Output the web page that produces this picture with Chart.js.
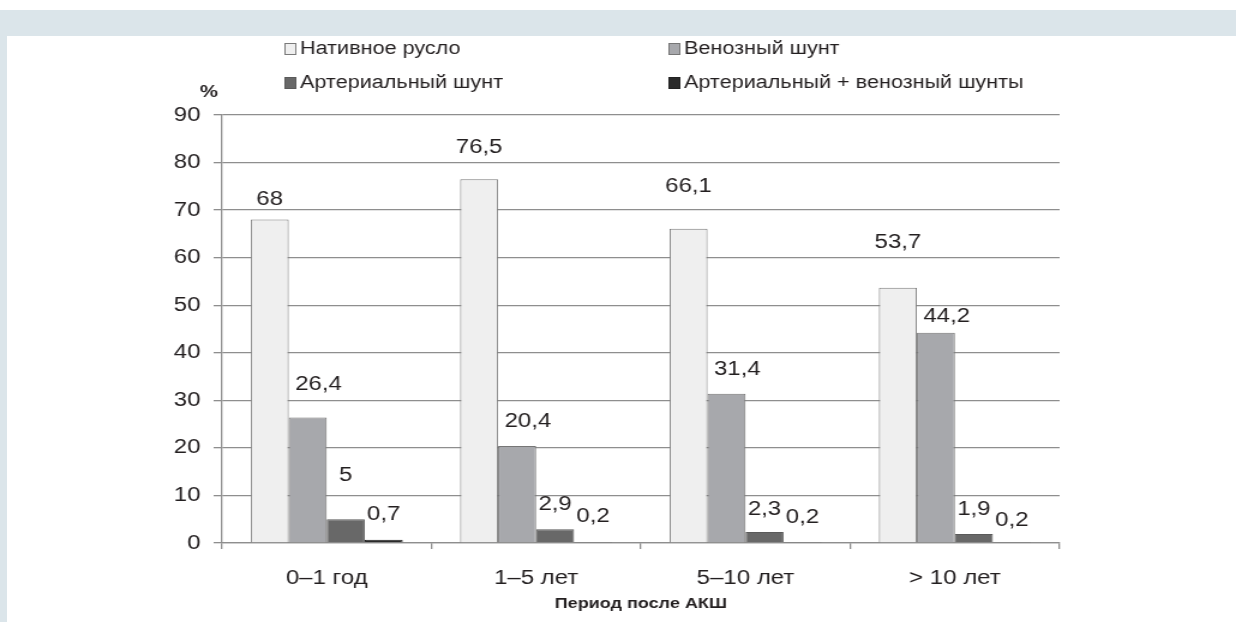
<!DOCTYPE html>
<html lang="ru">
<head>
<meta charset="utf-8">
<title>Период после АКШ</title>
<script src="https://cdn.jsdelivr.net/npm/chart.js@4/dist/chart.umd.min.js"></script>
<style>
  html, body { margin: 0; padding: 0; background: #fff; }
  #wrap { position: relative; width: 1236px; height: 622px; overflow: hidden; }
  .band { position: absolute; background: #dbe5ea; }
  #c { position: absolute; left: 0; top: 0; }
</style>
</head>
<body>
<div id="wrap">
  <div class="band" style="left:0;top:10px;width:1236px;height:26px"></div>
  <div class="band" style="left:0;top:10px;width:7px;height:612px"></div>
  <!-- канвас чуть уже окна и растянут по ширине, как в оригинале -->
  <canvas id="c" width="1030" height="622" style="width:1236px;height:622px"></canvas>
</div>
<script>
// данные
const periods = ['0–1 год', '1–5 лет', '5–10 лет', '> 10 лет'];
const seriesNames = ['Нативное русло', 'Венозный шунт', 'Артериальный шунт', 'Артериальный + венозный шунты'];
const native = [68, 76.5, 66.1, 53.7];
const venous = [26.4, 20.4, 31.4, 44.2];
const arterial = [5, 2.9, 2.3, 1.9];
const both = [0.7, 0.2, 0.2, 0.2];
const yTicks = [0, 10, 20, 30, 40, 50, 60, 70, 80, 90];

// где стоят подписи значений (в единицах оси Y), как в оригинале
const labelAt = [
  [72.3, 83.1, 74.9, 63.1],
  [33.4, 25.5, 36.4, 47.7],
  [14.1, 8.0, 7.0, 7.0],
  [5.9, 5.5, 5.3, 4.8]
];
const labelShiftX = [0, 9, 0, 0];

const fills = ['#efefef', '#a7a8ac', '#686868', '#2a2a2a'];
const edges = ['#7a7a7a', '#767676', '#5a5a5a', '#222222'];
const FONT = '"Liberation Sans", Arial, Helvetica, sans-serif';
const INK = '#231f20';

const fmt = v => String(v).replace('.', ',');

// подписи над столбцами
const valueLabels = {
  id: 'valueLabels',
  afterDatasetsDraw(chart) {
    const ctx = chart.ctx;
    const y = chart.scales.y;
    ctx.save();
    ctx.font = '20px ' + FONT;
    ctx.fillStyle = INK;
    ctx.textAlign = 'center';
    ctx.textBaseline = 'middle';
    chart.data.datasets.forEach((ds, i) => {
      chart.getDatasetMeta(i).data.forEach((bar, j) => {
        ctx.fillText(fmt(ds.data[j]), bar.x + labelShiftX[i], y.getPixelForValue(labelAt[i][j]));
      });
    });
    ctx.restore();
  }
};

// легенда в две колонки и знак % над осью
const sideTexts = {
  id: 'sideTexts',
  afterDraw(chart) {
    const ctx = chart.ctx;
    const area = chart.chartArea;
    const colX = [237, 557];
    const rowY = [49, 83];
    ctx.save();
    ctx.font = '18px ' + FONT;
    ctx.textBaseline = 'middle';
    ctx.textAlign = 'left';
    chart.data.datasets.forEach((ds, i) => {
      const x = colX[i % 2];
      const y = rowY[Math.floor(i / 2)];
      ctx.fillStyle = ds.backgroundColor;
      ctx.fillRect(x, y - 6, 10, 12);
      ctx.strokeStyle = ds.borderColor;
      ctx.lineWidth = 1;
      ctx.strokeRect(x + 0.5, y - 5.5, 9, 11);
      ctx.fillStyle = INK;
      ctx.fillText(ds.label, x + 13, y);
    });
    ctx.font = 'bold 17px ' + FONT;
    ctx.textAlign = 'center';
    ctx.fillText('%', area.left - 11, area.top - 23);
    ctx.restore();
  }
};

const gridGrey = '#8e8e8e';

const chart = new Chart(document.getElementById('c').getContext('2d'), {
  type: 'bar',
  data: {
    labels: periods,
    datasets: [native, venous, arterial, both].map((d, i) => ({
      label: seriesNames[i],
      data: d,
      backgroundColor: fills[i],
      borderColor: edges[i],
      borderWidth: 1,
      borderSkipped: 'bottom',
      categoryPercentage: 0.726,
      barPercentage: 1.0
    }))
  },
  options: {
    responsive: false,
    animation: false,
    devicePixelRatio: 1,
    layout: { padding: { top: 115, right: 147, left: 0, bottom: 0 } },
    plugins: { legend: { display: false }, tooltip: { enabled: false } },
    scales: {
      x: {
        grid: { offset: true, drawOnChartArea: false, drawTicks: true, tickLength: 6, color: gridGrey, lineWidth: 1.3 },
        border: { color: gridGrey, width: 1.3 },
        ticks: { font: { family: FONT, size: 20 }, color: INK, padding: 17 },
        title: {
          display: true,
          text: 'Период после АКШ',
          font: { family: FONT, size: 15, weight: 'bold' },
          color: INK,
          padding: { top: 0, bottom: 9 }
        },
        afterFit(s) { s.height = 79; }
      },
      y: {
        min: 0,
        max: 90,
        afterBuildTicks(s) { s.ticks = yTicks.map(v => ({ value: v })); },
        ticks: { font: { family: FONT, size: 20 }, color: INK, padding: 11 },
        grid: { color: gridGrey, lineWidth: 1.3, tickLength: 7 },
        border: { color: gridGrey, width: 1.3 },
        afterFit(s) { s.width = 185; }
      }
    }
  },
  plugins: [valueLabels, sideTexts]
});
// на случай, если библиотека переписала размер стиля
chart.canvas.style.width = '1236px';
chart.canvas.style.height = '622px';
</script>
</body>
</html>
